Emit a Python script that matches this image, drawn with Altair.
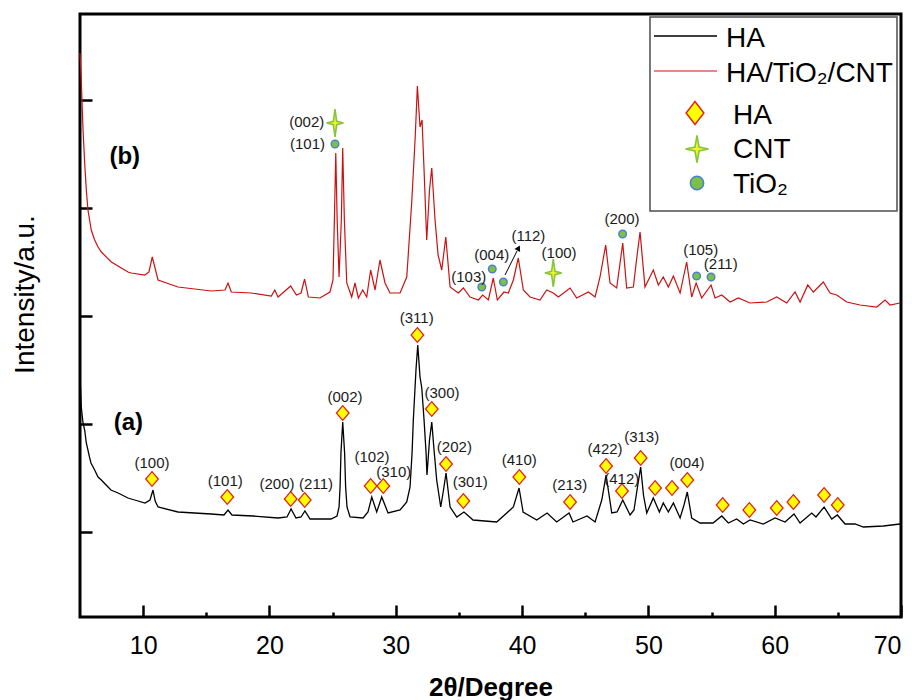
import altair as alt
import pandas as pd

# ---------------- data ----------------
# HA pattern (black, curve a)
ha_2theta = [5.00, 5.10, 5.24, 5.37, 5.50, 5.77, 5.87, 6.16, 6.43, 6.69,
             7.22, 7.45, 8.01, 8.80, 9.33, 10.15, 10.54, 10.78, 10.95, 11.18,
             12.76, 15.37, 16.40, 16.72, 17.03, 18.70, 20.68, 21.39, 21.71, 22.10,
             22.50, 22.81, 23.21, 24.87, 25.35, 25.51, 25.59, 25.66, 25.80, 25.95,
             26.03, 26.14, 26.38, 27.41, 27.80, 28.10, 28.49, 28.89, 29.39, 30.34,
             30.87, 31.13, 31.29, 31.39, 31.60, 31.74, 31.92, 32.06, 32.24, 32.40,
             32.47, 32.67, 32.85, 33.03, 33.24, 33.56,
             33.78, 33.98, 34.14, 34.30, 34.83, 35.40, 36.12, 37.99, 39.05, 39.31,
             39.76, 40.08, 41.16, 41.98, 42.74, 43.72, 44.03, 45.14, 45.78, 46.31,
             46.65, 47.10, 47.52, 47.97, 48.55, 48.86, 49.10, 49.39, 49.61, 49.87,
             50.39, 50.87, 51.18, 51.58, 51.98, 52.51, 52.82, 53.08, 53.43, 54.09,
             55.12, 55.81, 56.33, 56.99, 57.52, 58.05, 59.10, 60.03, 60.82, 61.53,
             62.01, 62.93, 63.27, 63.91, 64.52, 64.96, 65.57, 66.36, 67.02, 68.60,
             69.92]
ha_intensity = [2420, 2100, 1940, 1870, 1740, 1590, 1540, 1470, 1400, 1370,
                1300, 1270, 1240, 1190, 1170, 1140, 1170, 1270, 1160, 1100,
                1050, 1030, 1020, 1070, 1020, 1010, 990, 1000, 1080, 990,
                1000, 1060, 980, 980, 1010, 1100, 1300, 1640, 1950, 1640,
                1300, 1100, 1000, 990, 1050, 1200, 1050, 1200, 1040, 1070,
                1150, 1300, 1640, 1970, 2470, 2720, 2400, 2290, 1970, 1640,
                1420, 1770, 1950, 1670, 1370, 1100,
                1270, 1440, 1270, 1100, 1000, 1050, 970, 950, 1070, 1100,
                1290, 1050, 970, 1040, 950, 1040, 950, 1010, 950, 1170,
                1420, 1040, 1050, 1170, 1020, 1070, 1270, 1500, 1220, 1040,
                1190, 1050, 1140, 1050, 1140, 990, 1120, 1250, 990, 940,
                940, 1010, 940, 980, 930, 970, 930, 990, 950, 1030,
                940, 1040, 1000, 1100, 980, 1020, 930, 930, 900, 910,
                930]

# HA/TiO2/CNT pattern (red, curve b)
comp_2theta = [5.00, 5.10, 5.24, 5.37, 5.50, 5.63, 5.89, 6.16, 6.43, 6.69,
               7.48, 8.27, 8.80, 9.06, 10.12, 10.46, 10.72, 11.18, 12.76, 15.40,
               16.48, 16.72, 16.98, 18.54, 20.15, 20.42, 20.68, 21.68, 22.13, 22.50,
               22.78, 23.08, 24.00, 24.79, 25.03, 25.14, 25.25, 25.36, 25.51, 25.69,
               25.80, 25.93, 26.12, 26.51, 26.77, 27.04, 27.38, 27.70, 28.01, 28.36,
               28.75, 29.15, 29.54, 30.34, 30.87, 31.26, 31.54, 31.71, 31.92, 32.08,
               32.24,
               32.45, 32.67, 32.85, 33.11, 33.35, 33.64, 33.96, 34.30, 34.95, 35.35,
               35.88, 36.54, 36.88, 37.33, 37.72, 38.04, 38.57, 38.91, 39.31, 39.70,
               40.10, 40.63, 41.42, 41.95, 42.47, 42.87, 43.80, 44.32, 45.25, 45.78,
               46.17, 46.62, 46.96, 47.49, 47.97, 48.28, 48.81, 49.06, 49.34, 49.73,
               50.39, 50.79, 51.18, 51.58, 51.98, 52.51, 53.03, 53.43, 53.78, 54.22,
               54.96, 55.28, 55.81, 56.47, 57.12, 58.05, 59.37, 60.16, 60.95, 61.61,
               62.01, 62.62, 63.06, 63.85, 64.38, 64.91, 65.70, 66.76, 68.08, 68.74,
               69.13, 69.92]
comp_intensity = [5640, 5370, 4870, 4540, 4270, 4070, 3870, 3770, 3700, 3650,
                  3550, 3490, 3450, 3440, 3420, 3450, 3600, 3370, 3300, 3260,
                  3270, 3340, 3250, 3240, 3210, 3270, 3200, 3310, 3220, 3240,
                  3380, 3200, 3190, 3250, 3370, 3970, 4640, 3970, 3400, 3970,
                  4690, 3970, 3340, 3200, 3340, 3190, 3270, 3200, 3470, 3270,
                  3570, 3340, 3240, 3240, 3400, 4140, 4800, 5310, 4900, 4970,
                  4470,
                  3770, 4270, 4490, 3970, 3620, 3470, 3800, 3300, 3240, 3290,
                  3200, 3170, 3220, 3170, 3390, 3170, 3250, 3240, 3370, 3590,
                  3270, 3200, 3170, 3270, 3240, 3200, 3290, 3190, 3250, 3200,
                  3400, 3720, 3340, 3290, 3740, 3290, 3300, 3570, 3850, 3300,
                  3470, 3320, 3400, 3300, 3410, 3240, 3550, 3200, 3340, 3190,
                  3320, 3190, 3220, 3150, 3190, 3140, 3150, 3200, 3140, 3250,
                  3150, 3320, 3250, 3350, 3240, 3220, 3150, 3120, 3100, 3170,
                  3120, 3140]

# HA reflection markers (diamonds)
ha_mark_2theta = [10.70, 16.66, 21.68, 22.79, 25.80, 28.01, 29.01, 31.71, 32.85, 33.98, 35.35, 39.78, 43.80,
                  46.65, 47.91, 49.39, 50.53, 51.87, 53.08, 55.88, 57.99, 60.16, 61.48, 63.91, 64.99]
ha_mark_int = [1380, 1200, 1180, 1170, 2040, 1310, 1310, 2820, 2080, 1530, 1160, 1400, 1150,
               1510, 1260, 1590, 1290, 1290, 1370, 1120, 1070, 1090, 1150, 1220, 1120]
ha_label_text = ["(100)", "(101)", "(200)", "(211)", "(002)", "(102)", "(310)", "(311)", "(300)", "(202)",
                 "(301)", "(410)", "(213)", "(422)", "(412)", "(313)", "(004)"]
ha_label_2theta = [10.70, 16.50, 20.60, 23.69, 25.98, 28.12, 29.84, 31.66, 33.66, 34.64,
                   35.90, 39.78, 43.77, 46.57, 47.89, 49.47, 53.06]
ha_label_int = [1540, 1360, 1330, 1330, 2200, 1600, 1450, 2990, 2240, 1700,
                1350, 1570, 1320, 1680, 1380, 1800, 1540]

# TiO2 reflection markers (circles)
tio2_2theta = [25.19, 36.81, 37.64, 38.52, 47.96, 53.82, 54.96]
tio2_int = [4730, 3300, 3480, 3350, 3830, 3410, 3400]
tio2_label_text = ["(101)", "(103)", "(004)", "(112)", "(200)", "(105)", "(211)"]
tio2_label_2theta = [23.01, 35.78, 37.60, 40.50, 47.91, 54.14, 55.73]
tio2_label_int = [4730, 3400, 3620, 3810, 3980, 3670, 3530]

# CNT reflection markers (stars)
cnt_2theta = [25.19, 42.47]
cnt_int = [4940, 3440]
cnt_label_text = ["(002)", "(100)"]
cnt_label_2theta = [22.95, 42.93]
cnt_label_int = [4950, 3640]

# arrow pointing to TiO2 (112)
arrow_from = [38.65, 3420]
arrow_to = [39.60, 3660]
arrow_tip = [39.72, 3690]

# panel tags
panel_text = ["(a)", "(b)"]
panel_2theta = [8.83, 8.54]
panel_int = [1940, 4600]

# axis ticks
x_major = [10, 20, 30, 40, 50, 60, 70]
x_minor = [15, 25, 35, 45, 55, 65]
y_ticks = [850, 1930, 3010, 4090, 5170]

# ---------------- chart ----------------
W, H = 821, 603
FONT = "Liberation Sans"
XS = alt.Scale(domain=[5, 70], nice=False, zero=False)
YS = alt.Scale(domain=[0, 6030], nice=False, zero=False)

DIAMOND = "M0,-1L0.86,0L0,1L-0.86,0Z"
DIAMOND_LEG = "M0,-1L0.77,0L0,1L-0.77,0Z"
STAR = "M0,-1L0.12,-0.12L0.6,0L0.12,0.12L0,1L-0.12,0.12L-0.6,0L-0.12,-0.12Z"
STAR_LEG = "M0,-1L0.15,-0.15L0.85,0L0.15,0.15L0,1L-0.15,0.15L-0.85,0L-0.15,-0.15Z"

C_DIA_FILL, C_DIA_STROKE = "#FFFF00", "#E2231A"
C_CIR_FILL, C_CIR_STROKE = "#7CC142", "#4A7FD6"
C_STAR_FILL, C_STAR_STROKE = "#F4F520", "#86C440"
C_RED = "#CC1111"


def X(f):
    return alt.X(f, type="quantitative", scale=XS, axis=None)


def Y(f):
    return alt.Y(f, type="quantitative", scale=YS, axis=None)


ha_df = pd.DataFrame({"two_theta": ha_2theta, "intensity": ha_intensity})
comp_df = pd.DataFrame({"two_theta": comp_2theta, "intensity": comp_intensity})

ha_line = alt.Chart(ha_df).mark_line(color="#000000", strokeWidth=1.3).encode(
    x=alt.X("two_theta:Q", scale=XS, axis=alt.Axis(
        orient="bottom", values=x_major, format="d", labelFont=FONT, labelFontSize=25,
        labelColor="#000000", labelPadding=16, ticks=False, domain=False, grid=False,
        title="2θ/Degree", titleFont=FONT, titleFontSize=26, titleFontWeight="bold",
        titleColor="#000000", titlePadding=16)),
    y=alt.Y("intensity:Q", scale=YS, axis=alt.Axis(
        orient="left", labels=False, ticks=False, domain=False, grid=False,
        title="Intensity/a.u.", titleFont=FONT, titleFontSize=28, titleFontWeight="normal",
        titleColor="#000000", titleX=-41, titleY=280, titleAngle=270,
        titleAlign="center", titleBaseline="bottom")),
)

comp_line = alt.Chart(comp_df).mark_line(color=C_RED, strokeWidth=1.2).encode(
    x=alt.X("two_theta:Q", scale=XS, axis=alt.Axis(
        orient="top", offset=-H, values=x_major + x_minor, labels=False, domain=False, grid=False,
        tickSize={"condition": {"test": "datum.value % 10 === 0", "value": 12}, "value": 5},
        tickWidth=2.5, tickColor="#000000", title=None)),
    y=alt.Y("intensity:Q", scale=YS, axis=alt.Axis(
        orient="right", offset=-W, values=y_ticks, labels=False, domain=False, grid=False,
        tickSize=12, tickWidth=2.5, tickColor="#000000", title=None)),
)

arrow_df = pd.DataFrame({"t": [arrow_from[0]], "i": [arrow_from[1]],
                         "t2": [arrow_to[0]], "i2": [arrow_to[1]]})
arrow = alt.Chart(arrow_df).mark_rule(color="#000000", strokeWidth=1).encode(
    x=X("t"), y=Y("i"), x2="t2:Q", y2="i2:Q")
arrow_head = alt.Chart(pd.DataFrame({"t": [arrow_tip[0]], "i": [arrow_tip[1]]})).mark_point(
    shape="triangle-up", angle=27, size=40, filled=True, color="#000000", opacity=1
).encode(x=X("t"), y=Y("i"))

ha_mk = alt.Chart(pd.DataFrame({"t": ha_mark_2theta, "i": ha_mark_int})).mark_point(
    shape=DIAMOND, size=216, filled=True, fill=C_DIA_FILL, stroke=C_DIA_STROKE,
    strokeWidth=1.3, opacity=1).encode(x=X("t"), y=Y("i"))
tio2_mk = alt.Chart(pd.DataFrame({"t": tio2_2theta, "i": tio2_int})).mark_point(
    shape="circle", size=58, filled=True, fill=C_CIR_FILL, stroke=C_CIR_STROKE,
    strokeWidth=1.4, opacity=1).encode(x=X("t"), y=Y("i"))
cnt_mk = alt.Chart(pd.DataFrame({"t": cnt_2theta, "i": cnt_int})).mark_point(
    shape=STAR, size=784, filled=True, fill=C_STAR_FILL, stroke=C_STAR_STROKE,
    strokeWidth=1.6, opacity=1).encode(x=X("t"), y=Y("i"))

lab_df = pd.DataFrame({
    "t": ha_label_2theta + tio2_label_2theta + cnt_label_2theta,
    "i": ha_label_int + tio2_label_int + cnt_label_int,
    "label": ha_label_text + tio2_label_text + cnt_label_text,
})
labels = alt.Chart(lab_df).mark_text(font=FONT, fontSize=15, color="#1a1a1a",
                                     align="center", baseline="middle").encode(
    x=X("t"), y=Y("i"), text="label:N")

panel = alt.Chart(pd.DataFrame({"t": panel_2theta, "i": panel_int, "label": panel_text})).mark_text(
    font=FONT, fontSize=24, fontWeight="bold", color="#000000",
    align="center", baseline="middle").encode(x=X("t"), y=Y("i"), text="label:N")

# ---------------- legend (drawn by hand) ----------------
one = pd.DataFrame({"k": [0]})
leg_box = alt.Chart(one).mark_rect(fill="#FFFFFF", stroke="#4d4d4d", strokeWidth=1.5).encode(
    x=alt.value(570), x2=alt.value(817), y=alt.value(3), y2=alt.value(197))
leg_l1 = alt.Chart(one).mark_rule(color="#000000", strokeWidth=1.3).encode(
    x=alt.value(574), x2=alt.value(637), y=alt.value(22))
leg_l2 = alt.Chart(one).mark_rule(color=C_RED, strokeWidth=1.2).encode(
    x=alt.value(574), x2=alt.value(637), y=alt.value(57))


def leg_text(txt, x, y):
    return alt.Chart(one).mark_text(text=txt, font=FONT, fontSize=28, color="#000000",
                                    align="left", baseline="alphabetic").encode(
        x=alt.value(x), y=alt.value(y))


leg_t1 = leg_text("HA", 646, 33)
leg_t2 = leg_text("HA/TiO₂/CNT", 646, 68)
leg_t3 = leg_text("HA", 653, 110)
leg_t4 = leg_text("CNT", 653, 144)
leg_t5 = leg_text("TiO₂", 653, 179)
leg_dia = alt.Chart(one).mark_point(shape=DIAMOND_LEG, size=529, filled=True, fill=C_DIA_FILL,
                                    stroke=C_DIA_STROKE, strokeWidth=1.5, opacity=1).encode(
    x=alt.value(615), y=alt.value(99))
leg_star = alt.Chart(one).mark_point(shape=STAR_LEG, size=729, filled=True, fill=C_STAR_FILL,
                                     stroke=C_STAR_STROKE, strokeWidth=1.6, opacity=1).encode(
    x=alt.value(617), y=alt.value(135))
leg_cir = alt.Chart(one).mark_point(shape="circle", size=177, filled=True, fill=C_CIR_FILL,
                                    stroke=C_CIR_STROKE, strokeWidth=1.5, opacity=1).encode(
    x=alt.value(617), y=alt.value(169))

chart = alt.layer(
    ha_line, comp_line, arrow, arrow_head, ha_mk, tio2_mk, cnt_mk, labels, panel,
    leg_box, leg_l1, leg_l2, leg_t1, leg_t2, leg_t3, leg_t4, leg_t5, leg_dia, leg_star, leg_cir,
).resolve_axis(x="independent", y="independent").properties(
    width=W, height=H,
    autosize=alt.AutoSizeParams(type="none"),
    padding={"left": 80, "top": 14, "right": 17, "bottom": 83},
).configure_view(stroke="#000000", strokeWidth=3)

chart.save("out.html", embed_options={"renderer": "svg", "actions": False})
